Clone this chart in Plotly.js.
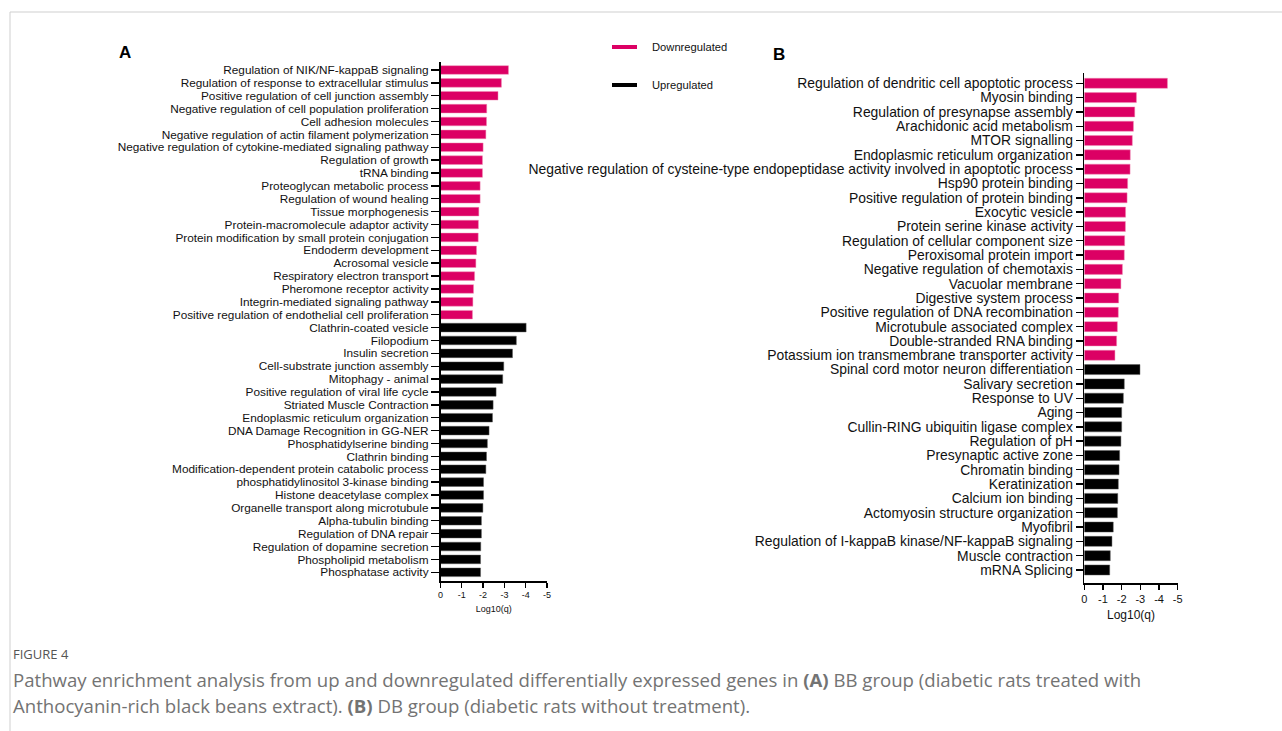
<!DOCTYPE html>
<html>
<head>
<meta charset="utf-8">
<script src="https://cdn.plot.ly/plotly-3.0.1.min.js"></script>
<style>
  html, body { margin: 0; padding: 0; background: #fff; }
  #chart { width: 1282px; height: 731px; }
</style>
</head>
<body>
<div id="chart"></div>
<script>
// ---------- DATA ----------
const aDownLabels = [
  "Regulation of NIK/NF-kappaB signaling",
  "Regulation of response to extracellular stimulus",
  "Positive regulation of cell junction assembly",
  "Negative regulation of cell population proliferation",
  "Cell adhesion molecules",
  "Negative regulation of actin filament polymerization",
  "Negative regulation of cytokine-mediated signaling pathway",
  "Regulation of growth",
  "tRNA binding",
  "Proteoglycan metabolic process",
  "Regulation of wound healing",
  "Tissue morphogenesis",
  "Protein-macromolecule adaptor activity",
  "Protein modification by small protein conjugation",
  "Endoderm development",
  "Acrosomal vesicle",
  "Respiratory electron transport",
  "Pheromone receptor activity",
  "Integrin-mediated signaling pathway",
  "Positive regulation of endothelial cell proliferation"
];
const aDownValues = [-3.19, -2.86, -2.70, -2.17, -2.16, -2.13, -2.00, -1.97, -1.97, -1.86,
                     -1.86, -1.80, -1.78, -1.77, -1.69, -1.66, -1.60, -1.55, -1.52, -1.50];

const aUpLabels = [
  "Clathrin-coated vesicle",
  "Filopodium",
  "Insulin secretion",
  "Cell-substrate junction assembly",
  "Mitophagy - animal",
  "Positive regulation of viral life cycle",
  "Striated Muscle Contraction",
  "Endoplasmic reticulum organization",
  "DNA Damage Recognition in GG-NER",
  "Phosphatidylserine binding",
  "Clathrin binding",
  "Modification-dependent protein catabolic process",
  "phosphatidylinositol 3-kinase binding",
  "Histone deacetylase complex",
  "Organelle transport along microtubule",
  "Alpha-tubulin binding",
  "Regulation of DNA repair",
  "Regulation of dopamine secretion",
  "Phospholipid metabolism",
  "Phosphatase activity"
];
const aUpValues = [-4.02, -3.56, -3.38, -2.97, -2.92, -2.61, -2.47, -2.44, -2.28, -2.20,
                   -2.16, -2.13, -2.02, -2.02, -1.99, -1.92, -1.92, -1.89, -1.88, -1.88];

const bDownLabels = [
  "Regulation of dendritic cell apoptotic process",
  "Myosin binding",
  "Regulation of presynapse assembly",
  "Arachidonic acid metabolism",
  "MTOR signalling",
  "Endoplasmic reticulum organization",
  "Negative regulation of cysteine-type endopeptidase activity involved in apoptotic process",
  "Hsp90 protein binding",
  "Positive regulation of protein binding",
  "Exocytic vesicle",
  "Protein serine kinase activity",
  "Regulation of cellular component size",
  "Peroxisomal protein import",
  "Negative regulation of chemotaxis",
  "Vacuolar membrane",
  "Digestive system process",
  "Positive regulation of DNA recombination",
  "Microtubule associated complex",
  "Double-stranded RNA binding",
  "Potassium ion transmembrane transporter activity"
];
const bDownValues = [-4.45, -2.79, -2.70, -2.63, -2.57, -2.46, -2.45, -2.32, -2.29, -2.21,
                     -2.20, -2.16, -2.14, -2.04, -1.96, -1.84, -1.82, -1.77, -1.73, -1.64];

const bUpLabels = [
  "Spinal cord motor neuron differentiation",
  "Salivary secretion",
  "Response to UV",
  "Aging",
  "Cullin-RING ubiquitin ligase complex",
  "Regulation of pH",
  "Presynaptic active zone",
  "Chromatin binding",
  "Keratinization",
  "Calcium ion binding",
  "Actomyosin structure organization",
  "Myofibril",
  "Regulation of I-kappaB kinase/NF-kappaB signaling",
  "Muscle contraction",
  "mRNA Splicing"
];
const bUpValues = [-2.98, -2.14, -2.09, -2.00, -2.00, -1.96, -1.89, -1.86, -1.82, -1.79,
                   -1.77, -1.55, -1.48, -1.39, -1.36];

const xTickVals = [0, -1, -2, -3, -4, -5];
const xTickText = ["0", "-1", "-2", "-3", "-4", "-5"];
const xTitle = "Log10(q)";
const seriesNames = ["Downregulated", "Upregulated"];

// ---------- STYLE ----------
const PINK = "#DC0064";
const BLACK = "#000000";
const W = 1282, H = 731;
const px = v => v / W;
const py = v => 1 - v / H;
const labelFont = "Liberation Sans, Arial, Helvetica, sans-serif";
const capFont = "Open Sans, sans-serif";

const catA = aDownLabels.concat(aUpLabels);
const catB = bDownLabels.concat(bUpLabels);

function barTrace(labels, values, color, xa, ya, w) {
  return {
    type: "bar", orientation: "h",
    x: values, y: labels,
    xaxis: xa, yaxis: ya,
    width: w,
    marker: { color: color, line: { color: color === PINK ? "rgba(240,140,180,0.8)" : "rgba(90,90,90,0.8)", width: 0.6 } },
    showlegend: false, hoverinfo: "x+y"
  };
}

const data = [
  barTrace(aDownLabels, aDownValues, PINK, "x", "y", 0.67),
  barTrace(aUpLabels, aUpValues, BLACK, "x", "y", 0.67),
  barTrace(bDownLabels, bDownValues, PINK, "x2", "y2", 0.7),
  barTrace(bUpLabels, bUpValues, BLACK, "x2", "y2", 0.7)
];

const axisCommon = {
  showline: true, linecolor: "#000", linewidth: 1.6,
  ticks: "outside", tickcolor: "#000", tickwidth: 1.4,
  showgrid: false, zeroline: false, fixedrange: true
};

const layout = {
  width: W, height: H,
  margin: { l: 0, r: 0, t: 0, b: 0 },
  paper_bgcolor: "#fff", plot_bgcolor: "rgba(0,0,0,0)",
  barmode: "overlay",
  showlegend: false,
  font: { family: labelFont, color: "#111" },
  xaxis: Object.assign({}, axisCommon, {
    domain: [px(440.5), px(547)], anchor: "y",
    range: [0, -5], tickmode: "array", tickvals: xTickVals, ticktext: xTickText,
    ticklen: 5, tickfont: { size: 9, family: labelFont, color: "#111" },
    title: { text: xTitle, font: { size: 9, family: labelFont, color: "#111" }, standoff: 6 }
  }),
  yaxis: Object.assign({}, axisCommon, {
    domain: [py(581), py(61.7)], anchor: "x",
    type: "category", categoryorder: "array", categoryarray: catA,
    tickmode: "array", tickvals: catA, ticktext: catA,
    range: [39.675, -0.644],
    ticklen: 8, tickfont: { size: 11.8, family: labelFont, color: "#111" }
  }),
  xaxis2: Object.assign({}, axisCommon, {
    domain: [px(1084.3), px(1177.7)], anchor: "y2",
    range: [0, -5], tickmode: "array", tickvals: xTickVals, ticktext: xTickText,
    ticklen: 5, tickfont: { size: 11, family: labelFont, color: "#111" },
    title: { text: xTitle, font: { size: 12, family: labelFont, color: "#111" }, standoff: 6 }
  }),
  yaxis2: Object.assign({}, axisCommon, {
    domain: [py(583.3), py(72.7)], anchor: "x2",
    type: "category", categoryorder: "array", categoryarray: catB,
    tickmode: "array", tickvals: catB, ticktext: catB,
    range: [34.93, -0.74],
    ticklen: 7, tickfont: { size: 13.9, family: labelFont, color: "#111" }
  }),
  shapes: [
    { type: "line", xref: "paper", yref: "paper", x0: px(10), x1: 1, y0: py(12), y1: py(12), line: { color: "#cfcfcf", width: 1 } },
    { type: "line", xref: "paper", yref: "paper", x0: px(10), x1: px(10), y0: py(12), y1: 0, line: { color: "#cfcfcf", width: 1 } },
    { type: "line", xref: "paper", yref: "paper", x0: px(612), x1: px(637), y0: py(47), y1: py(47), line: { color: PINK, width: 4 } },
    { type: "line", xref: "paper", yref: "paper", x0: px(612), x1: px(637), y0: py(85), y1: py(85), line: { color: BLACK, width: 4 } }
  ],
  annotations: [
    { text: "<b>A</b>", xref: "paper", yref: "paper", x: px(117), y: py(53), xanchor: "left", yanchor: "middle", showarrow: false, font: { size: 17, family: labelFont, color: "#000" } },
    { text: "<b>B</b>", xref: "paper", yref: "paper", x: px(771), y: py(54), xanchor: "left", yanchor: "middle", showarrow: false, font: { size: 17, family: labelFont, color: "#000" } },
    { text: seriesNames[0], xref: "paper", yref: "paper", x: px(650), y: py(47), xanchor: "left", yanchor: "middle", showarrow: false, font: { size: 11.2, family: labelFont, color: "#111" } },
    { text: seriesNames[1], xref: "paper", yref: "paper", x: px(650), y: py(85), xanchor: "left", yanchor: "middle", showarrow: false, font: { size: 11.2, family: labelFont, color: "#111" } },
    { text: "FIGURE 4", xref: "paper", yref: "paper", x: px(11), y: py(654), xanchor: "left", yanchor: "middle", showarrow: false, font: { size: 13, family: capFont, color: "#555" } },
    { text: "Pathway enrichment analysis from up and downregulated differentially expressed genes in <b>(A)</b> BB group (diabetic rats treated with", xref: "paper", yref: "paper", x: px(11), y: py(679), xanchor: "left", yanchor: "middle", showarrow: false, font: { size: 18.6, family: capFont, color: "#737373" } },
    { text: "Anthocyanin-rich black beans extract). <b>(B)</b> DB group (diabetic rats without treatment).", xref: "paper", yref: "paper", x: px(11), y: py(705), xanchor: "left", yanchor: "middle", showarrow: false, font: { size: 18.6, family: capFont, color: "#737373" } }
  ]
};

Plotly.newPlot("chart", data, layout, { displayModeBar: false, staticPlot: true });
</script>
</body>
</html>
